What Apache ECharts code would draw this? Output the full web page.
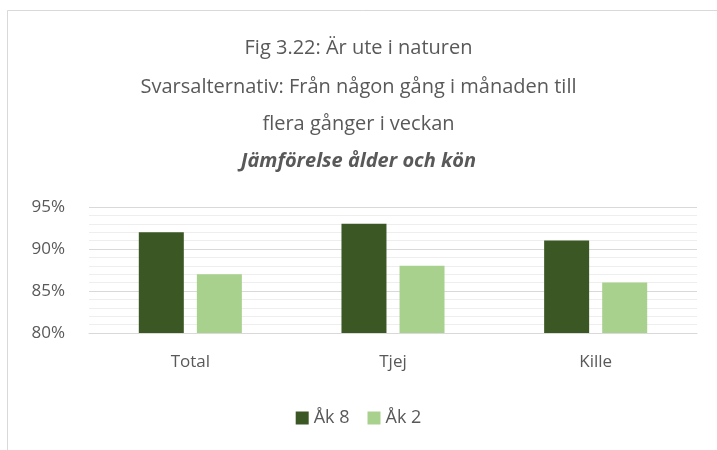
<!DOCTYPE html>
<html>
<head>
<meta charset="utf-8">
<title>Fig 3.22</title>
<script src="https://cdn.jsdelivr.net/npm/echarts@6/dist/echarts.min.js"></script>
<style>
html,body{margin:0;padding:0;background:#fff;}
#main{width:717px;height:450px;}
</style>
</head>
<body>
<div id="main"></div>
<script>
// kategorier och värden (andel)
var categories = ['Total', 'Tjej', 'Kille'];
var ak8 = [0.92, 0.93, 0.91];
var ak2 = [0.87, 0.88, 0.86];
var seriesNames = ['Åk 8', 'Åk 2'];

var textColor = '#595959';
var font = 'Open Sans';

var chart = echarts.init(document.getElementById('main'));

chart.setOption({
	animation: false,
	backgroundColor: '#fff',
	title: [
		{text: 'Fig 3.22: Är ute i naturen', left: 'center', top: 33},
		{text: 'Svarsalternativ: Från någon gång i månaden till', left: 'center', top: 72},
		{text: 'flera gånger i veckan', left: 'center', top: 109},
		{text: 'Jämförelse ålder och kön', left: 'center', top: 146,
			textStyle: {fontStyle: 'italic', fontWeight: 'bold', color: textColor, fontFamily: font, fontSize: 20}}
	].map(function (t) {
		if (!t.textStyle) t.textStyle = {color: textColor, fontFamily: font, fontSize: 20, fontWeight: 'normal'};
		return t;
	}),
	graphic: [{
		type: 'rect',
		shape: {x: 7.5, y: 10.5, width: 740, height: 480},
		style: {fill: null, stroke: '#d9d9d9', lineWidth: 1},
		silent: true
	}],
	legend: {
		data: seriesNames,
		bottom: 18,
		left: 'center',
		itemWidth: 13,
		itemHeight: 13,
		itemGap: 18,
		icon: 'rect',
		textStyle: {color: textColor, fontFamily: font, fontSize: 18}
	},
	grid: {left: 89, right: 20, top: 207, bottom: 117},
	xAxis: {
		type: 'category',
		data: categories,
		axisLine: {lineStyle: {color: '#d9d9d9', width: 1}},
		axisTick: {show: false},
		axisLabel: {color: textColor, fontFamily: font, fontSize: 17, margin: 21}
	},
	yAxis: {
		type: 'value',
		min: 0.8,
		max: 0.95,
		interval: 0.05,
		axisLine: {show: false},
		axisTick: {show: false},
		axisLabel: {
			color: textColor, fontFamily: font, fontSize: 17, margin: 24,
			formatter: function (v) { return Math.round(v * 100) + '%'; }
		},
		splitLine: {lineStyle: {color: '#d9d9d9', width: 1}},
		minorTick: {show: false, splitNumber: 5},
		minorSplitLine: {show: true, lineStyle: {color: '#eeeeee', width: 1}}
	},
	series: [
		{name: seriesNames[0], type: 'bar', data: ak8, barWidth: 45, barGap: '29%',
			itemStyle: {color: '#3b5723'}},
		{name: seriesNames[1], type: 'bar', data: ak2, barWidth: 45,
			itemStyle: {color: '#a9d18e'}}
	]
});
</script>
</body>
</html>
